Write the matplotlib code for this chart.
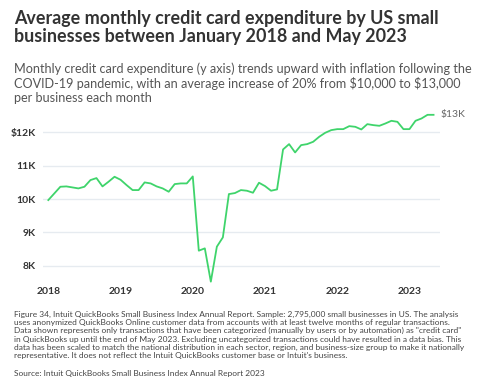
import numpy as np
import matplotlib.pyplot as plt

# average monthly credit card spend per business, Jan 2018 .. May 2023 (thousands of $)
spend = [
    9.97, 10.17, 10.37, 10.38, 10.35, 10.32, 10.37, 10.57, 10.63, 10.38, 10.52, 10.67,  # 2018
    10.58, 10.42, 10.27, 10.27, 10.50, 10.47, 10.38, 10.32, 10.22, 10.45, 10.47, 10.47,  # 2019
    10.68, 8.45, 8.52, 7.52, 8.57, 8.85, 10.15, 10.18, 10.27, 10.25, 10.19, 10.49,  # 2020
    10.39, 10.25, 10.29, 11.49, 11.65, 11.40, 11.62, 11.65, 11.72, 11.87, 11.99, 12.07,  # 2021
    12.10, 12.10, 12.19, 12.17, 12.09, 12.25, 12.22, 12.20, 12.27, 12.35, 12.32, 12.10,  # 2022
    12.10, 12.35, 12.42, 12.53, 12.53,  # 2023
]
years = ['2018', '2019', '2020', '2021', '2022', '2023']
yticks = [8, 9, 10, 11, 12]
ytick_labels = ['8K', '9K', '10K', '11K', '$12K']

title = ('Average monthly credit card expenditure by US small\n'
         'businesses between January 2018 and May 2023')
subtitle = ('Monthly credit card expenditure (y axis) trends upward with inflation following the\n'
            'COVID-19 pandemic, with an average increase of 20% from $10,000 to $13,000\n'
            'per business each month')
note = ('Figure 34, Intuit QuickBooks Small Business Index Annual Report. Sample: 2,795,000 small businesses in US. The analysis\n'
        'uses anonymized QuickBooks Online customer data from accounts with at least twelve months of regular transactions.\n'
        'Data shown represents only transactions that have been categorized (manually by users or by automation) as "credit card"\n'
        'in QuickBooks up until the end of May 2023. Excluding uncategorized transactions could have resulted in a data bias. This\n'
        'data has been scaled to match the national distribution in each sector, region, and business-size group to make it nationally\n'
        'representative. It does not reflect the Intuit QuickBooks customer base or Intuit\'s business.')
source = 'Source: Intuit QuickBooks Small Business Index Annual Report 2023'

plt.rcParams['font.family'] = ['Lato', 'DejaVu Sans']
plt.rcParams['text.parse_math'] = False

fig = plt.figure(figsize=(4.8, 3.92), dpi=100)
ax = fig.add_axes([0.089, 0.273, 0.828, 0.446])

x = np.arange(len(spend))
ax.plot(x, spend, color='#3fd46b', linewidth=1.3, zorder=3)
ax.text(x[-1] + 1.2, spend[-1], '$13K', color='#666666', fontsize=7.5,
        va='center', ha='left')

ax.set_xlim(-0.93, 65.1)
ax.set_ylim(7.42, 12.67)
ax.set_yticks(yticks)
ax.set_yticklabels(ytick_labels, fontweight='bold', fontsize=7.5, color='#333333')
ax.set_xticks(np.arange(len(years)) * 12)
ax.set_xticklabels(years, fontweight='bold', fontsize=7.5, color='#333333')
ax.tick_params(axis='y', length=0, pad=5)
ax.tick_params(axis='x', length=0, pad=1.5)
ax.yaxis.grid(True, color='#e6ebf0', linewidth=1)
for s in ax.spines.values():
    s.set_visible(False)

fig.text(0.03, 0.975, title, fontsize=12.9, fontweight='bold', color='#333333',
         va='top', linespacing=1.1)
fig.text(0.03, 0.84, subtitle, fontsize=9.1, color='#555555', va='top',
         linespacing=1.2)
fig.text(0.03, 0.207, note, fontsize=6.05, color='#444444', va='top',
         linespacing=1.2)
fig.text(0.03, 0.056, source, fontsize=6.05, color='#444444', va='top')

fig.savefig('out.png', dpi=100, facecolor='white')
